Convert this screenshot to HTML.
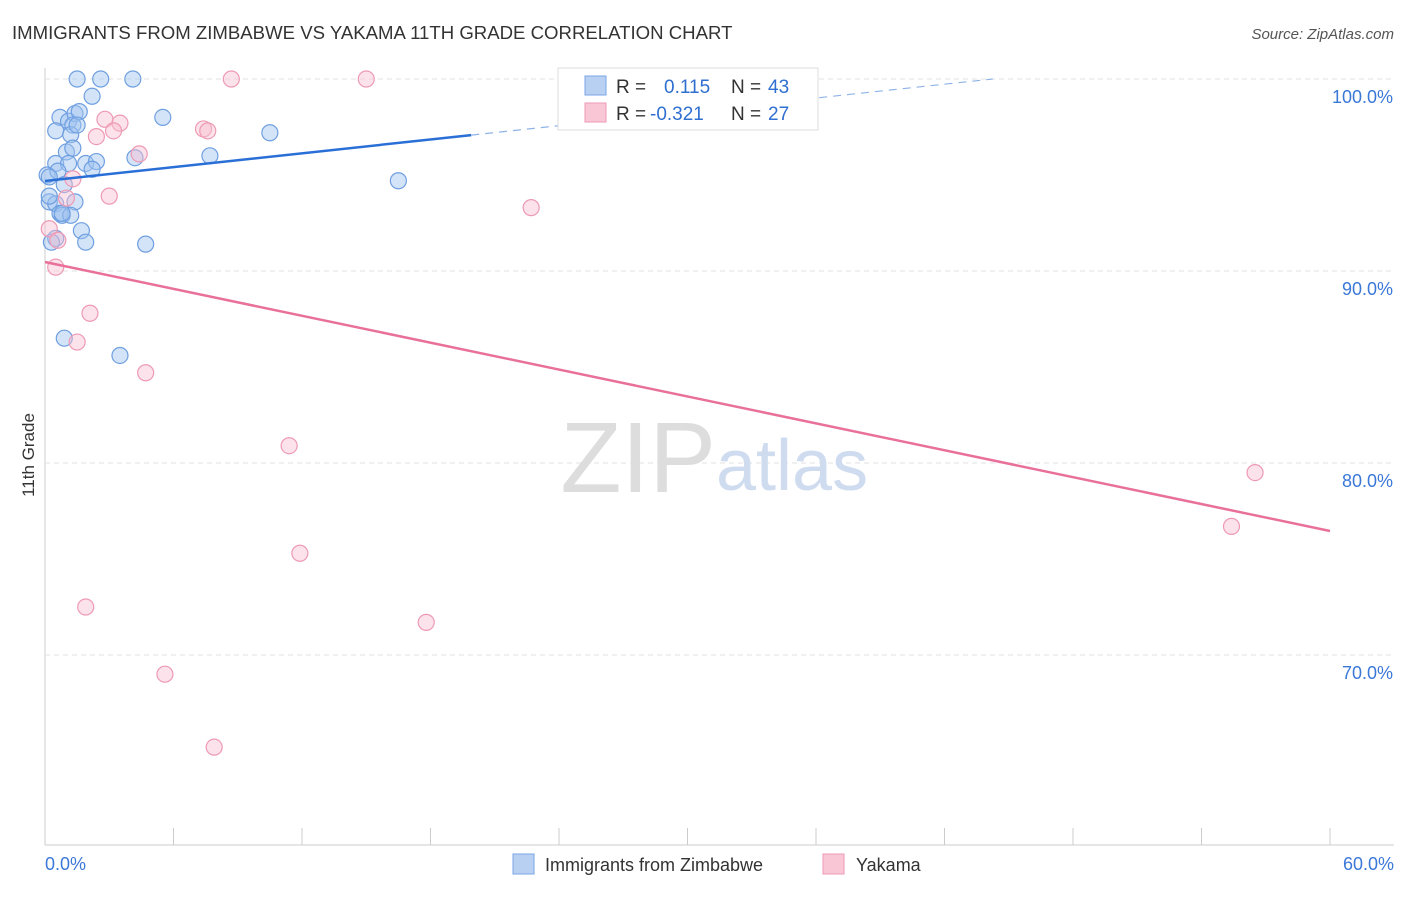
<!DOCTYPE html>
<html><head><meta charset="utf-8"><style>
body{margin:0;background:#fff;font-family:"Liberation Sans",sans-serif;}
svg text{font-family:"Liberation Sans",sans-serif;}
</style></head><body>
<svg id="c" width="1406" height="892" xmlns="http://www.w3.org/2000/svg">
<text x="12" y="39" font-size="18.6" fill="#333">IMMIGRANTS FROM ZIMBABWE VS YAKAMA 11TH GRADE CORRELATION CHART</text>
<text x="1394" y="39" font-size="15" fill="#555" text-anchor="end" font-style="italic">Source: ZipAtlas.com</text>
<text x="34" y="455" font-size="17" fill="#333" text-anchor="middle" transform="rotate(-90 34 455)">11th Grade</text>
<g id="grid"></g>
<text x="716" y="492" font-size="100" fill="#ddd" text-anchor="end" font-family="Liberation Serif">ZIP</text>
<text x="716" y="490" font-size="72" fill="#cfdcf0">atlas</text>
<g id="pts"></g>
<g id="lines"></g>
<g>
<rect x="558" y="68" width="260" height="62" fill="#fff" stroke="#ddd"/>
<rect x="585" y="76" width="21" height="19" fill="#b8d1f3" stroke="#7aa6e6"/>
<rect x="585" y="103" width="21" height="19" fill="#f9c6d5" stroke="#ee9ab4"/>
<text x="616" y="93" font-size="19" fill="#333">R =</text><text x="664" y="93" font-size="19" fill="#2f6fd0">0.115</text>
<text x="731" y="93" font-size="19" fill="#333">N =</text><text x="768" y="93" font-size="19" fill="#2f6fd0">43</text>
<text x="616" y="120" font-size="19" fill="#333">R =</text><text x="650" y="120" font-size="19" fill="#2f6fd0">-0.321</text>
<text x="731" y="120" font-size="19" fill="#333">N =</text><text x="768" y="120" font-size="19" fill="#2f6fd0">27</text>
</g>
<g>
<rect x="513" y="854" width="21" height="20" fill="#b8d1f3" stroke="#7aa6e6"/>
<text x="545" y="871" font-size="18" fill="#333">Immigrants from Zimbabwe</text>
<rect x="823" y="854" width="21" height="20" fill="#f9c6d5" stroke="#ee9ab4"/>
<text x="856" y="871" font-size="18" fill="#333">Yakama</text>
</g>
</svg>
<script>
const xTicks=[0,6,12,18,24,30,36,42,48,54,60];
const yTicks=[100,90,80,70];
const blueX=[1.5,2.6,4.1,2.2,0.7,1.1,1.4,1.3,5.5,0.5,1.2,10.5,1.0,1.3,4.2,7.7,0.5,1.1,1.9,2.4,2.2,0.1,0.6,16.5,0.9,0.2,0.5,1.4,0.7,0.8,1.2,1.7,0.5,0.3,1.9,4.7,0.9,3.5,0.2,0.2,1.6,1.5,0.8];
const blueY=[100,100,100,99.1,98.0,97.8,98.2,97.6,98.0,97.3,97.1,97.2,96.2,96.4,95.9,96.0,95.6,95.6,95.6,95.7,95.3,95.0,95.2,94.7,94.5,93.6,93.5,93.6,93.0,92.9,92.9,92.1,91.7,91.5,91.5,91.4,86.5,85.6,94.9,93.9,98.3,97.6,93.0];
const pinkX=[8.7,15.0,2.8,3.5,3.2,2.4,7.4,7.6,4.4,1.3,3.0,1.0,0.2,0.6,0.5,2.1,1.5,4.7,11.4,22.7,56.5,55.4,11.9,1.9,17.8,5.6,7.9];
const pinkY=[100,100,97.9,97.7,97.3,97.0,97.4,97.3,96.1,94.8,93.9,93.8,92.2,91.6,90.2,87.8,86.3,84.7,80.9,93.3,79.5,76.7,75.3,72.5,71.7,69.0,65.2];
const blueTrend=[94.69,0.12], pinkTrend=[90.47,-0.2335];
const X=v=>45+v*1285/60, Y=v=>79+(100-v)*19.2;
const NS="http://www.w3.org/2000/svg";
function mk(t,a,p){const e=document.createElementNS(NS,t);for(const k in a)e.setAttribute(k,a[k]);p.appendChild(e);return e;}
const g=document.getElementById('grid');
const ax=mk('line',{x1:45,y1:68,x2:45,y2:845,stroke:'#ccc'},g);


const bx=mk('line',{x1:45,y1:845,x2:1394,y2:845,stroke:'#ccc'},g);


yTicks.forEach(t=>{
 const l=mk('line',{x1:45,y1:Y(t),x2:1394,y2:Y(t),stroke:'#e2e2e2','stroke-dasharray':'5,4'},g);
 
 
 const tx=mk('text',{x:1393,y:Y(t)+24,'font-size':18,fill:'#3b78d8','text-anchor':'end'},g);
 tx.textContent=t.toFixed(1)+'%';
 
 
});
xTicks.forEach(t=>{
 const l=mk('line',{x1:X(t),y1:828,x2:X(t),y2:845,stroke:'#ccc'},g);
 
 
});
[[0,'start',45],[60,'end',1394]].forEach(([v,a,x])=>{
 const tx=mk('text',{x:x,y:870,'font-size':18,fill:'#3b78d8','text-anchor':a},g);
 tx.textContent=v.toFixed(1)+'%';
 
 
});
const P=document.getElementById('pts');
blueX.forEach((v,i)=>{
 const c=mk('circle',{cx:X(v),cy:Y(blueY[i]),r:8,fill:'rgba(160,195,240,0.45)',stroke:'#6f9fe0','stroke-width':1.2},P);
 
 
});
pinkX.forEach((v,i)=>{
 const c=mk('circle',{cx:X(v),cy:Y(pinkY[i]),r:8,fill:'rgba(248,190,208,0.45)',stroke:'#ee9ab4','stroke-width':1.2},P);
 
 
});
const L=document.getElementById('lines');
const bEnd=19.9, bMax=(100-blueTrend[0])/blueTrend[1];
const b1=mk('line',{x1:X(0),y1:Y(blueTrend[0]),x2:X(bEnd),y2:Y(blueTrend[0]+blueTrend[1]*bEnd),stroke:'#2a6fd6','stroke-width':2.5},L);


const b2=mk('line',{x1:X(bEnd),y1:Y(blueTrend[0]+blueTrend[1]*bEnd),x2:X(bMax),y2:Y(100),stroke:'#8fb3e6','stroke-width':1.2,'stroke-dasharray':'8,6'},L);


const p1=mk('line',{x1:X(0),y1:Y(pinkTrend[0]),x2:X(60),y2:Y(pinkTrend[0]+pinkTrend[1]*60),stroke:'#e8709a','stroke-width':2.5},L);


</script>
</body></html>
